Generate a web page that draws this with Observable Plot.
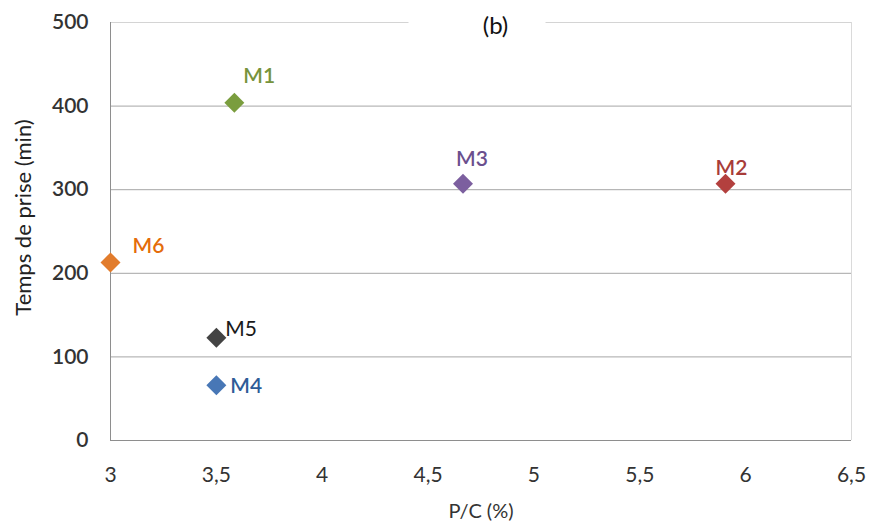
<!DOCTYPE html>
<html><head><meta charset="utf-8">
<script src="https://cdn.jsdelivr.net/npm/d3@7"></script>
<script src="https://cdn.jsdelivr.net/npm/@observablehq/plot@0.6"></script>
<style>body{margin:0;background:#fff}</style>
</head><body><div id="chart"></div>
<script>
const names = ["M1", "M2", "M3", "M4", "M5", "M6"];
const pc = [3.585, 5.905, 4.665, 3.5, 3.5, 3.0];
const temps = [404, 307, 307, 66, 123, 213];
const markerColors = ["#7a9d3e", "#b3403e", "#7c5f9f", "#4877b6", "#434343", "#e27c2c"];
const labelColors = ["#77933c", "#a83c39", "#6b4f8e", "#2f5c97", "#1a1a1a", "#e46c0a"];
const xTicks = [3, 3.5, 4, 4.5, 5, 5.5, 6, 6.5];
const yTicks = [0, 100, 200, 300, 400, 500];
const xTitle = "P/C (%)";
const yTitle = "Temps de prise (min)";
const chartTitle = "(b)";

const data = names.map((n, i) => ({name: n, x: pc[i], y: temps[i], c: markerColors[i], lc: labelColors[i]}));

// label placement (pixel offsets from marker)
const place = {
  M1: {dx: 9, dy: -26, anchor: "start", w: 600},
  M2: {dx: 6, dy: -16, anchor: "middle", w: 600},
  M3: {dx: 9, dy: -25, anchor: "middle", w: 600},
  M4: {dx: 14, dy: 1, anchor: "start", w: 600},
  M5: {dx: 9, dy: -8, anchor: "start", w: 400},
  M6: {dx: 22, dy: -16, anchor: "start", w: 600}
};

const fmt = d => String(d).replace(".", ",");
const font = "Lato, 'Open Sans', sans-serif";

const labelMarks = data.map(d => Plot.text([d], {
  x: "x", y: "y", text: "name", fill: d.lc,
  dx: place[d.name].dx, dy: place[d.name].dy, textAnchor: place[d.name].anchor,
  fontSize: 21, fontWeight: place[d.name].w
}));

function titleMark(index, scales, values, dims) {
  const cx = dims.marginLeft + (dims.width - dims.marginLeft - dims.marginRight) / 2;
  const y = dims.marginTop;
  const g = d3.create("svg:g");
  g.append("rect").attr("x", cx - 72).attr("y", y - 4).attr("width", 137).attr("height", 8).attr("fill", "#fff");
  g.append("text").attr("x", cx + 15).attr("y", y + 4).attr("dy", "0.35em")
    .attr("text-anchor", "middle").style("font-size", "24px").style("font-family", font).attr("fill", "#111")
    .text(chartTitle);
  return g.node();
}

const chart = Plot.plot({
  width: 870, height: 524,
  marginLeft: 110, marginRight: 19, marginTop: 22, marginBottom: 84,
  x: {domain: [3, 6.5]},
  y: {domain: [0, 500]},
  style: {fontFamily: font, background: "#fff", overflow: "visible"},
  marks: [
    Plot.ruleY(yTicks.filter(d => d > 0 && d < 500), {stroke: "#a6a6a6"}),
    Plot.ruleY([500], {stroke: "#d4d4d4"}),
    Plot.ruleX([6.5], {stroke: "#dadada"}),
    Plot.ruleX([3], {stroke: "#8e8e8e"}),
    Plot.ruleY([0], {stroke: "#8e8e8e"}),
    titleMark,
    Plot.axisY(yTicks, {tickSize: 0, tickPadding: 22, fontSize: 21, fontWeight: 600, fill: "#333", label: null}),
    Plot.axisX(xTicks, {tickSize: 0, tickPadding: 27, fontSize: 21, fill: "#333", tickFormat: fmt, label: null}),
    Plot.text([xTitle], {frameAnchor: "bottom", lineAnchor: "middle", dy: 71, fontSize: 20, fill: "#333"}),
    Plot.text([yTitle], {frameAnchor: "left", textAnchor: "middle", lineAnchor: "middle", dx: -87, dy: -14, rotate: -90, fontSize: 22, fill: "#222"}),
    Plot.dot(data, {x: "x", y: "y", symbol: "diamond2", r: 9, fill: "c", stroke: "none"}),
    ...labelMarks
  ]
});
document.getElementById("chart").appendChild(chart);
</script>
</body></html>
